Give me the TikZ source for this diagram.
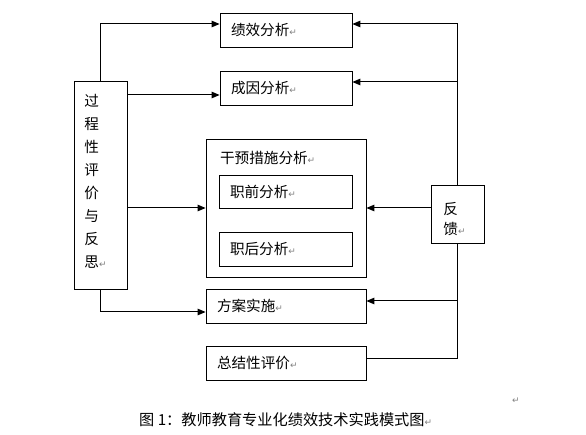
\documentclass[tikz,border=0pt]{standalone}
\usepackage{fontspec}
\setmainfont{Noto Sans CJK SC}
\newfontfamily\pfsym{DejaVu Sans}
\usepackage{xcolor}
\definecolor{pfmark}{HTML}{808080}
\usepackage{tikz}
\usetikzlibrary{arrows.meta}
\newcommand{\pmark}{{\pfsym\color{pfmark}\fontsize{9}{9}\selectfont ↵}}
\tikzset{
  pfbox/.style={draw,line width=0.8pt,inner xsep=11pt,inner ysep=0pt,align=left,minimum height=34pt,font=\fontsize{14.6}{23}\selectfont},
  pfflow/.style={-{Triangle[length=8pt,width=6.5pt]},line width=1pt},
  pfline/.style={line width=1pt},
}
\begin{document}
\begin{tikzpicture}[x=1pt,y=-1pt]
\useasboundingbox (0,0) rectangle (586,435);
\node[pfbox,text width=110pt] (jx) at (286,30) {绩效分析\pmark};
\node[pfbox,text width=110pt] (cy) at (286,88) {成因分析\pmark};
\node[pfbox,text width=138pt,minimum height=138pt,
  label={[anchor=west,font=\fontsize{14.6}{14}\selectfont,xshift=11pt,yshift=-19pt]north west:干预措施分析\pmark}] (gy) at (286,208) {};
\node[pfbox,text width=111pt,minimum height=33pt] (zq) at (285.5,191.5) {职前分析\pmark};
\node[pfbox,text width=111pt] (zh) at (285.5,249) {职后分析\pmark};
\node[pfbox,text width=138pt] (fa) at (286,306) {方案实施\pmark};
\node[pfbox,text width=138pt] (zj) at (286,363) {总结性评价\pmark};
\node[pfbox,text width=31pt,minimum height=208pt,
  label={[align=left,font=\fontsize{14.6}{23}\selectfont,xshift=-5pt,yshift=4pt]center:过\\程\\性\\评\\价\\与\\反\\思\pmark}] (gc) at (100.5,185) {};
\node[pfbox,text width=30pt,minimum height=58pt,inner xsep=11.5pt,
  label={[align=left,font=\fontsize{14.6}{20}\selectfont,xshift=-3pt,yshift=-5pt]center:反\\馈\pmark}] (fk) at (457.5,214) {};
% left side
\draw[pfflow] (gc.north) |- ([yshift=6pt]jx.west);
\draw[pfflow] ([yshift=-7pt]cy.west -| gc.east) -- ([yshift=-7pt]cy.west);
\draw[pfflow] (gc.east |- gy.west) -- (gy.west);
\draw[pfflow] (gc.south) |- ([yshift=-6pt]fa.west);
% feedback
\draw[pfflow] (fk.north) |- ([yshift=6pt]jx.east);
\draw[pfflow] (fk.north) |- ([yshift=6pt]cy.east);
\draw[pfflow] (fk.west |- gy.east) -- (gy.east);
\draw[pfflow] (fk.south) |- ([yshift=5pt]fa.east);
\draw[pfline] ([yshift=5pt]zj.east) -| (fk.south);
\node[anchor=west,inner sep=0pt,font=\fontsize{15.2}{15}\selectfont] (cap) at (139,420) {图 1：教师教育专业化绩效技术实践模式图\pmark};
\node[inner sep=0pt] (tail) at (516,401) {\pmark};
\end{tikzpicture}
\end{document}
